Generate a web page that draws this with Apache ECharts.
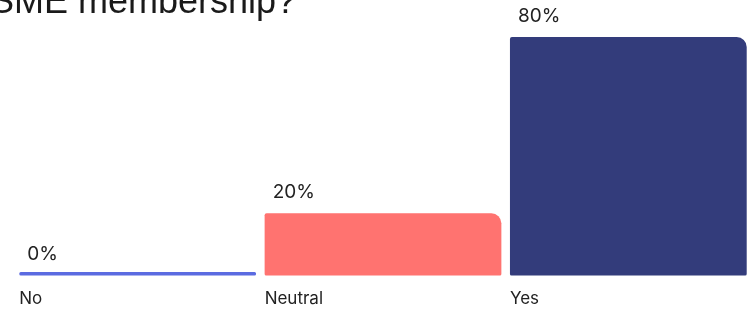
<!DOCTYPE html>
<html lang="en">
	<head>
		<meta charset="utf-8">
		<title>SME membership?</title>
		<script src="https://cdn.jsdelivr.net/npm/echarts@6/dist/echarts.min.js"></script>
		<style>
			html,body{
				margin: 0;
				padding: 0;
				background: #fff;
			}
			#chart{
				width: 754px;
				height: 310px;
			}
		</style>
	</head>
	<body>
		<div id="chart"></div>
	</body>
	<script>
		// data
		var categories=['No','Neutral','Yes'];
		var shares=[0,20,80];
		var titleText='SME membership?';

		// every bar sits on a thin strip below zero, so 0% still shows a line
		var floorValue=-1.2;
		var colors=['#5b6be1','#ff7370','#333c7b'];

		var baseData=categories.map(function(name,i){
			return {
				value:floorValue,
				itemStyle:{
					color:colors[i],
					borderRadius:shares[i]===0?1.5:[0,0,1.5,1.5]
				}
			};
		});
		var shareData=shares.map(function(v,i){
			return {value:v,itemStyle:{color:colors[i]}};
		});

		var option={
			animation:false,
			grid:{left:15,right:3,top:37,bottom:34.5},
			graphic:[{
				type:'text',
				x:-10,
				y:21,
				style:{
					text:titleText,
					fontFamily:'Liberation Sans',
					fontSize:36,
					fill:'#1a1a1a',
					verticalAlign:'bottom'
				}
			}],
			xAxis:{
				type:'category',
				data:categories,
				axisLine:{show:false},
				axisTick:{show:false},
				axisLabel:{show:false},
				splitLine:{show:false}
			},
			yAxis:{
				type:'value',
				min:floorValue,
				max:80,
				show:false,
				splitLine:{show:false}
			},
			series:[{
				type:'bar',
				stack:'v',
				barCategoryGap:'3.5%',
				data:baseData,
				label:{
					show:true,
					position:[0,27],
					align:'left',
					verticalAlign:'middle',
					formatter:'{b}',
					fontFamily:'Inter',
					fontSize:17,
					color:'#222'
				}
			},{
				type:'bar',
				stack:'v',
				barCategoryGap:'3.5%',
				data:shareData,
				itemStyle:{borderRadius:[2,10,0,0]},
				label:{
					show:true,
					position:[8,-21],
					align:'left',
					verticalAlign:'middle',
					formatter:'{c}%',
					fontFamily:'Inter',
					fontSize:19,
					color:'#222'
				}
			}]
		};

		var myChart=echarts.init(document.getElementById('chart'));
		myChart.setOption(option);
	</script>
</html>
